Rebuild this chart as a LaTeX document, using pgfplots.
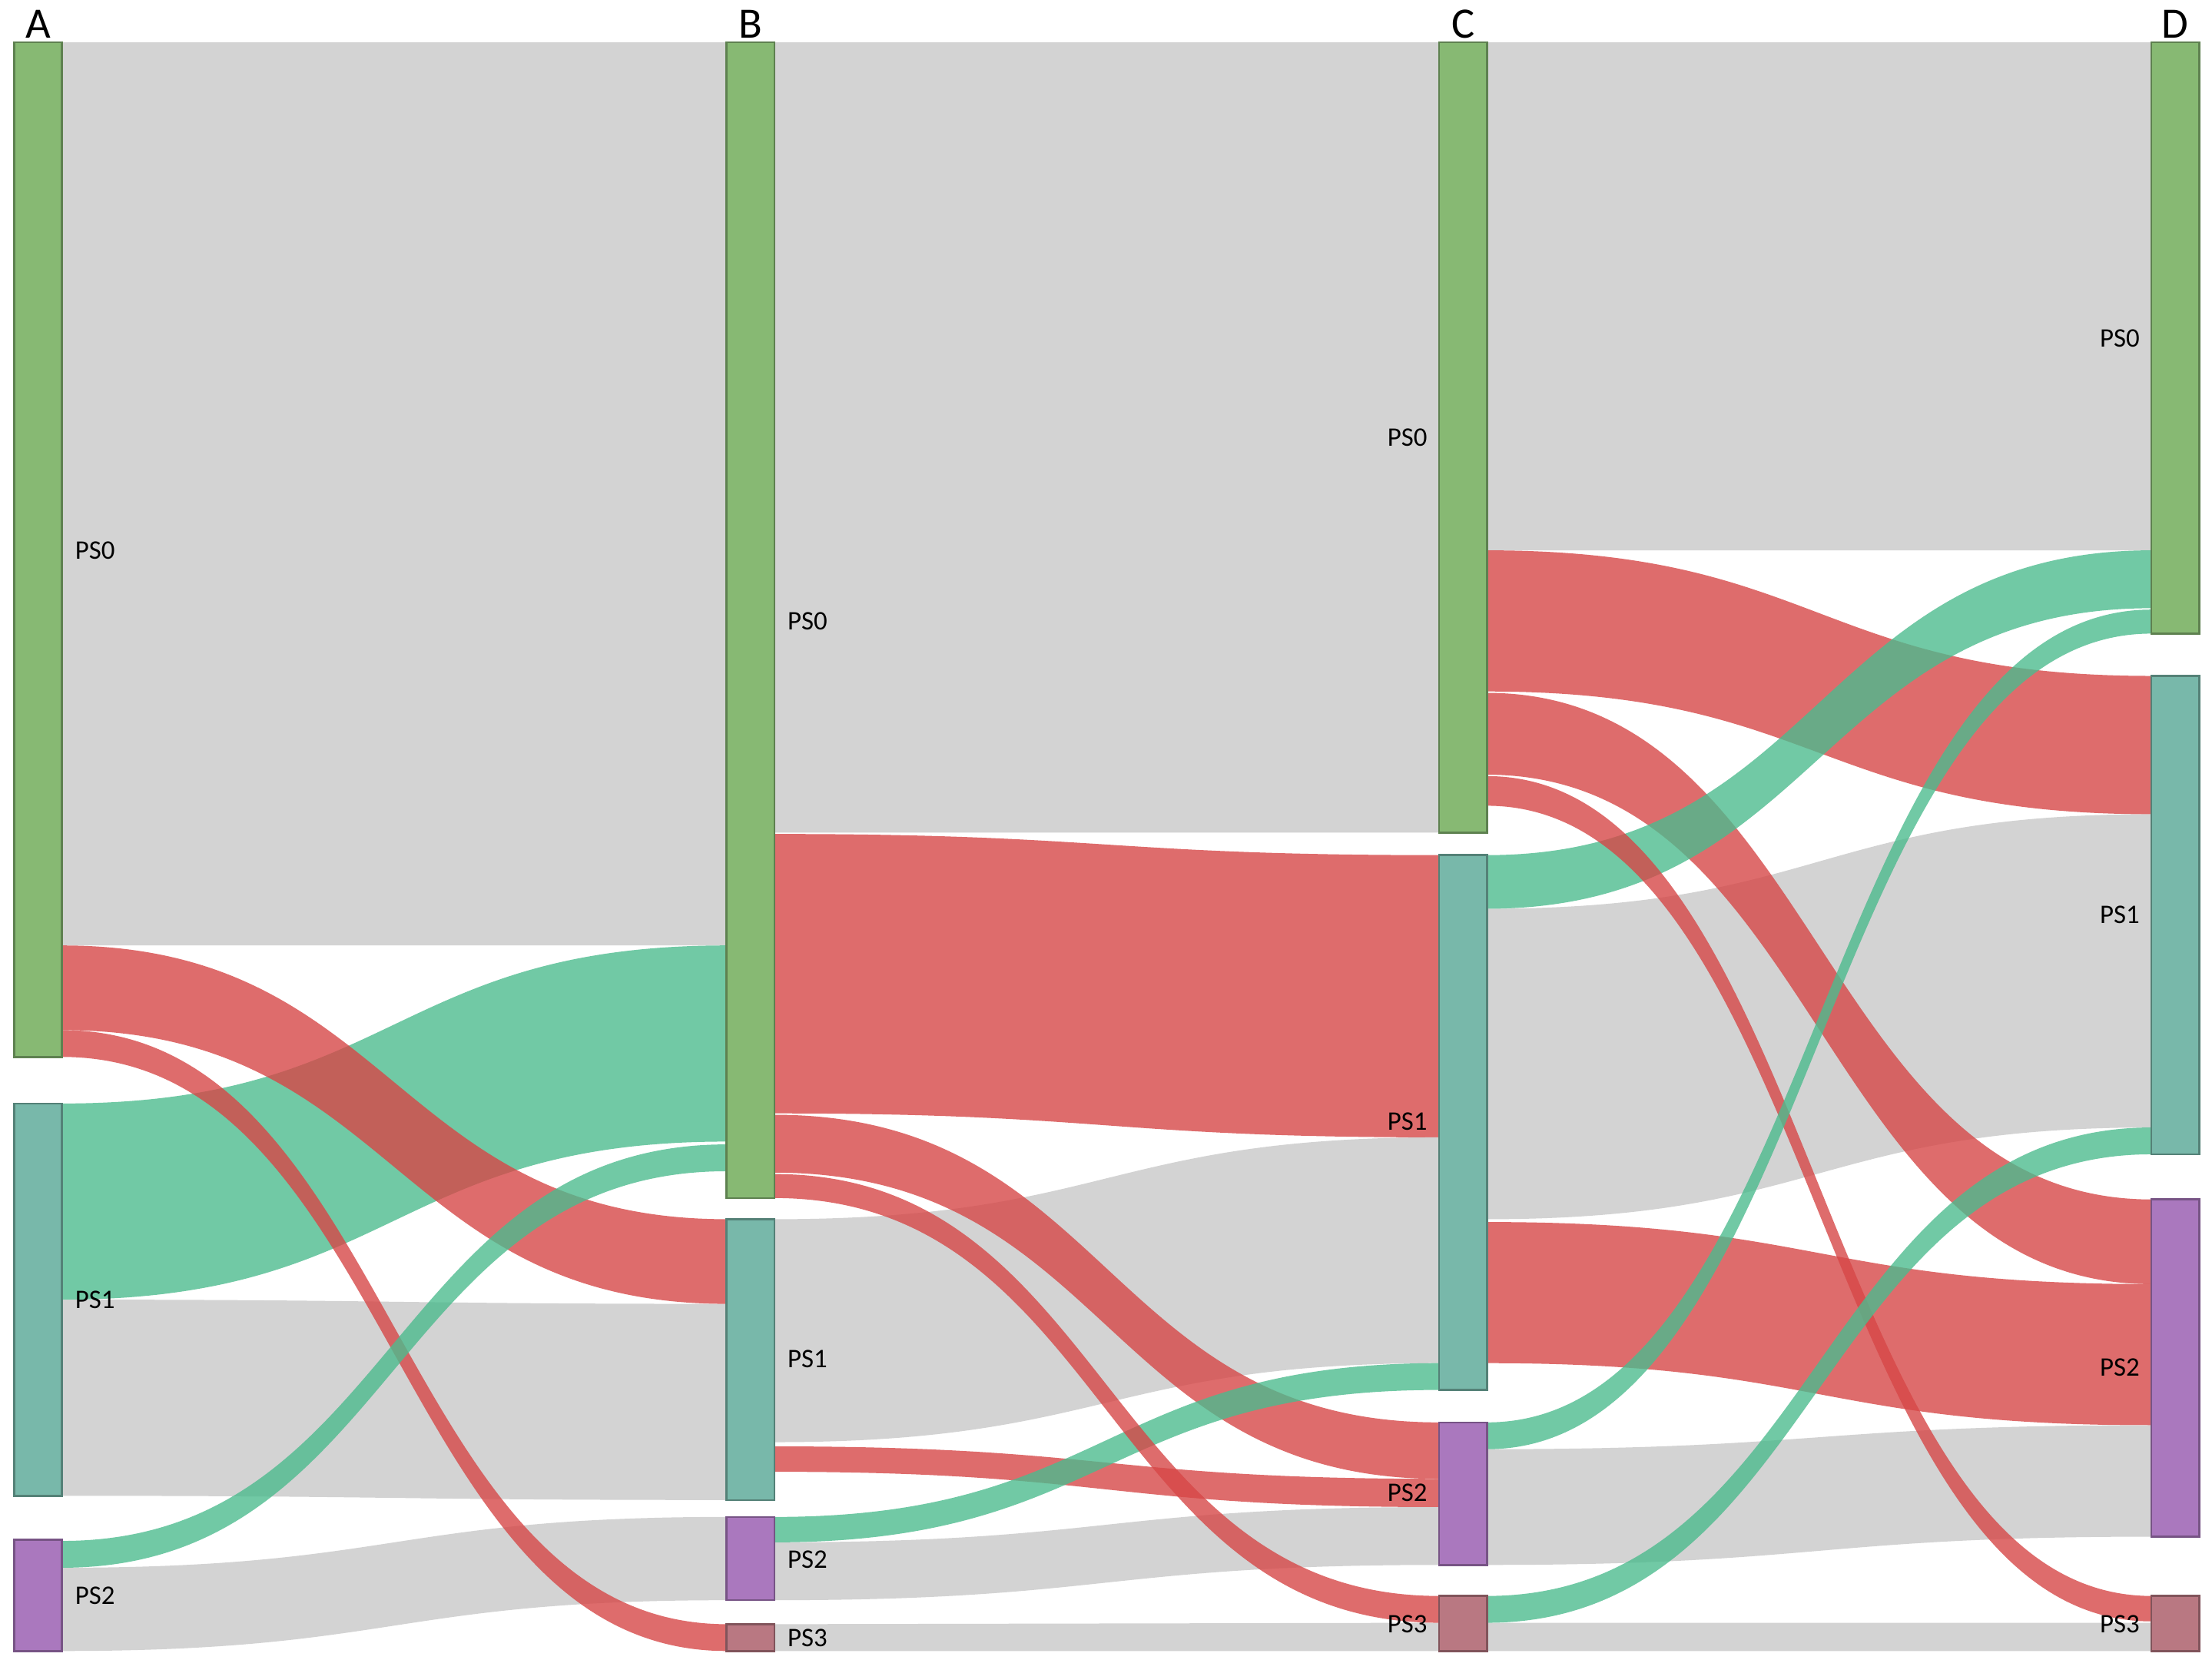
\documentclass[border=0pt]{standalone}
\usepackage{fontspec}
\setmainfont{Carlito}
\usepackage{pgfplots}
\pgfplotsset{compat=1.18}
\definecolor{ngreen}{HTML}{87B973}
\definecolor{nteal}{HTML}{78B8AA}
\definecolor{npurple}{HTML}{AA78BE}
\definecolor{npink}{HTML}{B97882}
\definecolor{lgrey}{HTML}{D3D3D3}
\definecolor{lred}{HTML}{D64747}
\definecolor{lgreen}{HTML}{4DBB8E}
\tikzset{fgrey/.style={fill=lgrey},
  fred/.style={fill=lred,fill opacity=0.8},
  fgreen/.style={fill=lgreen,fill opacity=0.8}}
% band: x0 xmid x1 | source top/bottom | target top/bottom | style
\newcommand{\flow}[8]{\fill[#8] (axis cs:#1,#4) .. controls (axis cs:#2,#4) and (axis cs:#2,#6) .. (axis cs:#3,#6)
  -- (axis cs:#3,#7) .. controls (axis cs:#2,#7) and (axis cs:#2,#5) .. (axis cs:#1,#5) -- cycle;}
\newcommand{\flowAB}[5]{\flow{44}{279.5}{515}{#1}{#2}{#3}{#4}{#5}}
\newcommand{\flowBC}[5]{\flow{549}{784.5}{1020}{#1}{#2}{#3}{#4}{#5}}
\newcommand{\flowCD}[5]{\flow{1054}{1289.5}{1525}{#1}{#2}{#3}{#4}{#5}}
% node: x0 x1 top bottom colour
\newcommand{\psnode}[5]{\addplot[fill=#5,draw=#5!70!black,line width=0.8pt] coordinates {(#1,#3) (#2,#3) (#2,#4) (#1,#4)} --cycle;}
\begin{document}
\begin{tikzpicture}
\begin{axis}[width=31.36cm,height=23.66cm,scale only axis,xmin=0,xmax=1568,ymin=0,ymax=1183,
  y dir=reverse,hide axis,clip=false]
\path (rel axis cs:0,0) rectangle (rel axis cs:1,1);
% A -> B
\flowAB{30}{670}{30}{670}{fgrey}
\flowAB{782}{921}{670}{809}{fgreen}
\flowAB{921}{1060}{924}{1063}{fgrey}
\flowAB{670}{730}{864}{924}{fred}
\flowAB{1111}{1170}{1075}{1134}{fgrey}
\flowAB{730}{749}{1151}{1170}{fred}
\flowAB{1092}{1111}{811}{830}{fgreen}
% B -> C
\flowBC{30}{590}{30}{590}{fgrey}
\flowBC{591}{789}{606}{806}{fred}
\flowBC{864}{1022}{806}{966}{fgrey}
\flowBC{1093}{1134}{1068}{1109}{fgrey}
\flowBC{790}{831}{1008}{1048}{fred}
\flowBC{1151}{1170}{1150}{1170}{fgrey}
\flowBC{1025}{1043}{1048}{1068}{fred}
\flowBC{1075}{1093}{966}{985}{fgreen}
\flowBC{832}{849}{1131}{1150}{fred}
% C -> D
\flowCD{30}{390}{30}{390}{fgrey}
\flowCD{644}{864}{577}{799}{fgrey}
\flowCD{390}{490}{479}{577}{fred}
\flowCD{866}{966}{910}{1010}{fred}
\flowCD{1027}{1109}{1010}{1089}{fgrey}
\flowCD{491}{549}{850}{910}{fred}
\flowCD{606}{644}{390}{431}{fgreen}
\flowCD{550}{571}{1131}{1149}{fred}
\flowCD{1150}{1170}{1150}{1170}{fgrey}
\flowCD{1008}{1027}{432}{449}{fgreen}
\flowCD{1131}{1150}{799}{818}{fgreen}
% nodes
\psnode{10}{44}{30}{749}{ngreen}
\psnode{10}{44}{782}{1060}{nteal}
\psnode{10}{44}{1091}{1170}{npurple}
\psnode{515}{549}{30}{849}{ngreen}
\psnode{515}{549}{864}{1063}{nteal}
\psnode{515}{549}{1075}{1134}{npurple}
\psnode{515}{549}{1151}{1170}{npink}
\psnode{1020}{1054}{30}{590}{ngreen}
\psnode{1020}{1054}{606}{985}{nteal}
\psnode{1020}{1054}{1008}{1109}{npurple}
\psnode{1020}{1054}{1131}{1170}{npink}
\psnode{1525}{1559}{30}{449}{ngreen}
\psnode{1525}{1559}{479}{818}{nteal}
\psnode{1525}{1559}{850}{1089}{npurple}
\psnode{1525}{1559}{1131}{1170}{npink}
% labels
\begin{scope}[every node/.style={font=\fontsize{10.8}{12}\selectfont,inner sep=0pt}]
\node[anchor=west] at (axis cs:53,390) {PS0};
\node[anchor=west] at (axis cs:53,921) {PS1};
\node[anchor=west] at (axis cs:53,1131) {PS2};
\node[anchor=west] at (axis cs:558,440) {PS0};
\node[anchor=west] at (axis cs:558,963) {PS1};
\node[anchor=west] at (axis cs:558,1105) {PS2};
\node[anchor=west] at (axis cs:558,1161) {PS3};
\node[anchor=east] at (axis cs:1012,310) {PS0};
\node[anchor=east] at (axis cs:1012,795) {PS1};
\node[anchor=east] at (axis cs:1012,1058) {PS2};
\node[anchor=east] at (axis cs:1012,1151) {PS3};
\node[anchor=east] at (axis cs:1517,240) {PS0};
\node[anchor=east] at (axis cs:1517,648) {PS1};
\node[anchor=east] at (axis cs:1517,969) {PS2};
\node[anchor=east] at (axis cs:1517,1151) {PS3};
\end{scope}
\begin{scope}[every node/.style={font=\fontsize{17.5}{20}\selectfont,inner sep=0pt,anchor=base}]
\node at (axis cs:27,27) {A};
\node at (axis cs:532,27) {B};
\node at (axis cs:1037,27) {C};
\node at (axis cs:1542,27) {D};
\end{scope}
\end{axis}
\end{tikzpicture}
\end{document}
